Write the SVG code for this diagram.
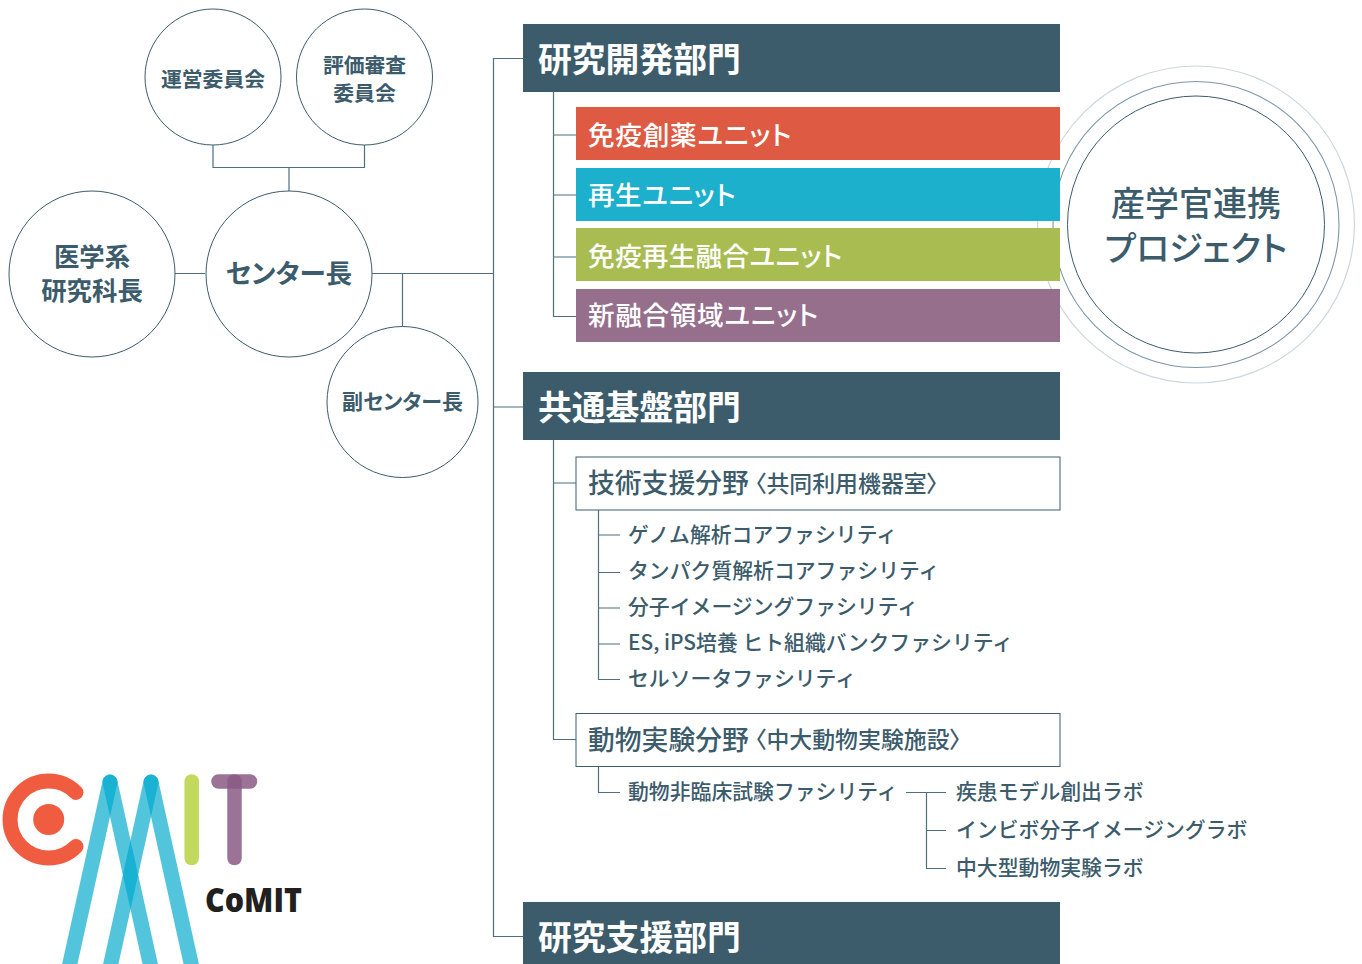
<svg xmlns="http://www.w3.org/2000/svg" width="1362" height="964" viewBox="0 0 1362 964">
<style>
text{font-family:"Noto Sans CJK JP","Noto Sans",sans-serif;fill:#3c5c6c;font-weight:500;font-feature-settings:"palt"}
.c{stroke:#3c5c6c;stroke-width:1;fill:#fff}
.l{stroke:#4f6f7e;stroke-width:1.2;fill:none}
.m{text-anchor:middle}
.h{font-size:33.8px;font-weight:700;fill:#fff}
.u{font-size:26.6px;fill:#fff}
.s{font-size:20.85px;font-feature-settings:normal}
.t{font-size:26.8px}
.b{font-size:22.9px}
.k{font-weight:700}
.mb{stroke:#00aacd;stroke-width:15;stroke-opacity:.68;stroke-linecap:round;fill:none}
.pt{stroke:#8a5a84;stroke-width:14.5;stroke-opacity:.85;stroke-linecap:round;fill:none}
</style>
<g id="collab"><circle cx="1196" cy="224.5" r="158.5" fill="#fff" stroke="#cdd7df" stroke-width="1.2"/><circle cx="1196" cy="224.5" r="143" fill="#fff" stroke="#7e97a6" stroke-width="1.1"/><circle cx="1196" cy="224.5" r="128.5" class="c"/><text x="1196" y="216" class="m" style="font-size:34px">産学官連携</text><text x="1196" y="261" class="m" style="font-size:34px">プロジェクト</text></g>
<g id="connectors">
<path class="l" d="M213 145V167.500H364.500V145M289 167.500V191M175 273.500H205M372 273.500H493M402.500 273.500V327M523 58.500H493.500V936.500H523M493.500 407H523"/>
<path class="l" d="M553.500 92V316.500H576M553.500 135H576M553.500 195H576M553.500 257H576M553.500 440V739.500H576M553.500 483H576"/>
<path class="l" d="M598.500 510V679.500H620M598.500 535H620M598.500 572.500H620M598.500 608H620M598.500 644H620M598.500 766V792.500H620M906 792.500H946M926.500 792.500V868.500H946M926.500 830.500H946"/>
</g>
<g id="n1"><circle class="c" cx="213" cy="77" r="68"/><text x="213" y="87" class="m k" style="font-size:20.8px">運営委員会</text></g>
<g id="n2"><circle class="c" cx="364.500" cy="77" r="68"/><text x="364.500" y="73" class="m k" style="font-size:20.8px">評価審査</text><text x="364.500" y="101" class="m k" style="font-size:20.8px">委員会</text></g>
<g id="n3"><circle class="c" cx="92" cy="274" r="83"/><text x="92" y="266" class="m k" style="font-size:25.4px">医学系</text><text x="92" y="300" class="m k" style="font-size:25.4px">研究科長</text></g>
<g id="n4"><circle class="c" cx="289" cy="274" r="83"/><text x="289" y="283" class="m k" style="font-size:26.6px">センター長</text></g>
<g id="n5"><circle class="c" cx="402.500" cy="402" r="75.500"/><text x="402.500" y="409" class="m k" style="font-size:21px">副センター長</text></g>
<g id="d1"><rect x="523" y="24" width="537" height="68" fill="#3c5c6b"/><text x="538" y="72" class="h">研究開発部門</text></g>
<g id="u1"><rect x="576" y="107" width="484" height="53" fill="#de5a42"/><text x="588" y="145" class="u" style="letter-spacing:.75px">免疫創薬ユニット</text></g>
<g id="u2"><rect x="576" y="168" width="484" height="53" fill="#1cb0cc"/><text x="588" y="205" class="u" style="letter-spacing:.5px">再生ユニット</text></g>
<g id="u3"><rect x="576" y="228" width="484" height="53" fill="#a9bc52"/><text x="588" y="266" class="u" style="letter-spacing:.3px">免疫再生融合ユニット</text></g>
<g id="u4"><rect x="576" y="289" width="484" height="53" fill="#966f8d"/><text x="588" y="325" class="u" style="letter-spacing:.67px">新融合領域ユニット</text></g>
<g id="d2"><rect x="523" y="372" width="537" height="68" fill="#3c5c6b"/><text x="538" y="420" class="h">共通基盤部門</text></g>
<g id="a1"><rect x="576" y="457" width="484" height="53" class="c"/><text x="588" y="493" class="t">技術支援分野</text><text x="755" y="492" class="b">〈共同利用機器室〉</text></g>
<g id="a2"><rect x="576" y="713.500" width="484" height="53" class="c"/><text x="588" y="750" class="t">動物実験分野</text><text x="755" y="748" class="b">〈中大動物実験施設〉</text></g>
<g id="f1"><text x="628" y="542" class="s">ゲノム解析コアファシリティ</text></g>
<g id="f2"><text x="628" y="578" class="s">タンパク質解析コアファシリティ</text></g>
<g id="f3"><text x="628" y="614" class="s">分子イメージングファシリティ</text></g>
<g id="f4"><text x="628" y="650" class="s">ES, iPS培養 ヒト組織バンクファシリティ</text></g>
<g id="f5"><text x="628" y="686" class="s">セルソータファシリティ</text></g>
<g id="f6"><text x="628" y="799" class="s">動物非臨床試験ファシリティ</text></g>
<g id="f7"><text x="956" y="799" class="s">疾患モデル創出ラボ</text></g>
<g id="f8"><text x="956" y="837" class="s">インビボ分子イメージングラボ</text></g>
<g id="f9"><text x="956" y="875" class="s">中大型動物実験ラボ</text></g>
<g id="d3"><rect x="523" y="902" width="537" height="62" fill="#3c5c6b"/><text x="538" y="950" class="h">研究支援部門</text></g>
<g id="logo">
<path d="M76 792.500A38.500 38.500 0 1 0 76 846.500" fill="none" stroke="#f05c40" stroke-width="15" stroke-linecap="round"/>
<circle cx="48.700" cy="819.500" r="15.500" fill="#f05c40"/>
<path class="mb" d="M110 782L68 972"/><path class="mb" d="M110 782L152 972"/>
<path class="mb" d="M151 782L109 972"/><path class="mb" d="M151 782L193 972"/>
<path d="M191.700 781.500V858" fill="none" stroke="#c2d95d" stroke-width="14.500" stroke-linecap="round"/>
<path class="pt" d="M218.500 781.500H250"/><path class="pt" d="M234.500 781.500V858"/>
<text x="205" y="912" style="font-family:'Open Sans',sans-serif;font-size:34px;font-weight:800;fill:#231f20" textLength="97" lengthAdjust="spacingAndGlyphs">CoMIT</text>
</g>
</svg>
